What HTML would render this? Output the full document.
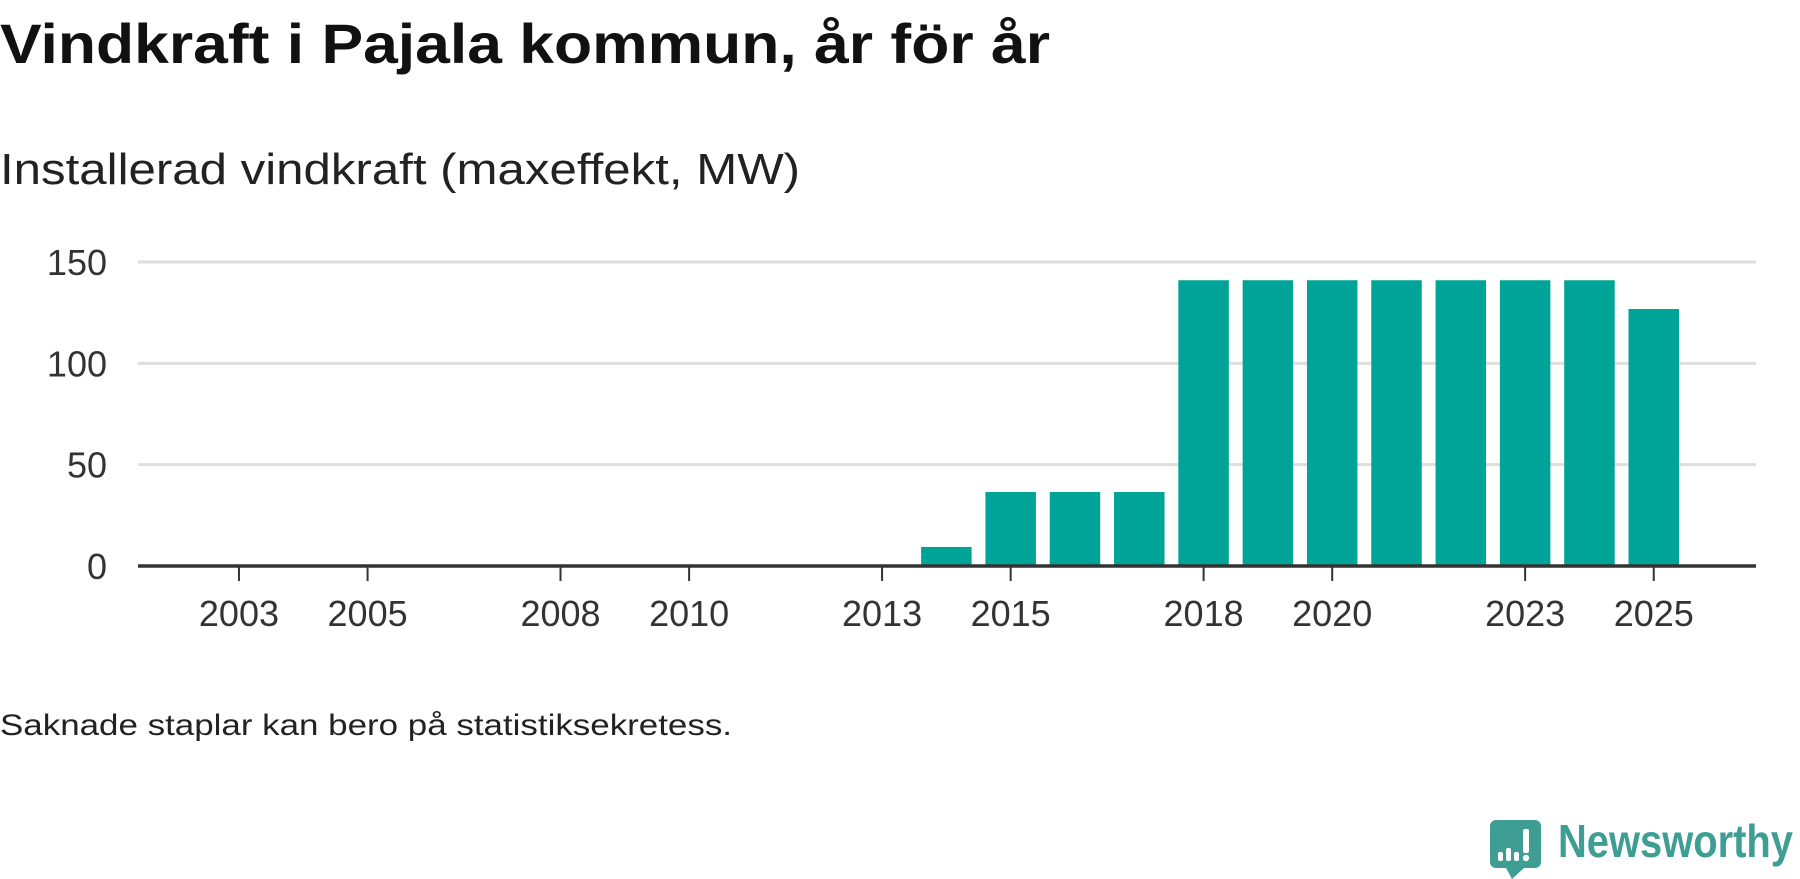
<!DOCTYPE html>
<html><head><meta charset="utf-8"><style>
html,body{margin:0;padding:0;background:#fff;width:1800px;height:879px;overflow:hidden}
svg{display:block;font-family:"Liberation Sans",sans-serif}
</style></head><body>
<svg id="chart" width="1800" height="879" viewBox="0 0 1800 879">
<text x="0" y="63" font-size="56" font-weight="bold" fill="#111" textLength="1050" lengthAdjust="spacingAndGlyphs">Vindkraft i Pajala kommun, år för år</text>
<text x="0" y="184" font-size="44" fill="#222" textLength="800" lengthAdjust="spacingAndGlyphs">Installerad vindkraft (maxeffekt, MW)</text>
<g id="grid"></g><g id="bars"></g><g id="axis"></g>
<text x="0" y="735" font-size="30" fill="#222" textLength="732" lengthAdjust="spacingAndGlyphs">Saknade staplar kan bero på statistiksekretess.</text>
<g>
<path d="M1496 820 H1535 a6 6 0 0 1 6 6 V862 a6 6 0 0 1 -6 6 H1524 L1512 879 L1506 868 H1496 a6 6 0 0 1 -6 -6 V826 a6 6 0 0 1 6 -6Z" fill="#3e9e94"/>
<rect x="1498" y="852" width="5" height="9" rx="2" fill="#fff"/>
<rect x="1506" y="848" width="5" height="13" rx="2" fill="#fff"/>
<rect x="1514" y="852" width="5" height="9" rx="2" fill="#fff"/>
<rect x="1523" y="829" width="6" height="24" rx="2" fill="#fff"/>
<circle cx="1526" cy="858" r="3.2" fill="#fff"/>
<text x="1558" y="857" font-size="46" font-weight="bold" fill="#3e9e94" textLength="235" lengthAdjust="spacingAndGlyphs">Newsworthy</text>
</g>
</svg>
<script>
const years=[2014,2015,2016,2017,2018,2019,2020,2021,2022,2023,2024,2025];
const values=[9.4,36.5,36.5,36.5,141,141,141,141,141,141,141,126.8];
const yTicks=[0,50,100,150];
const xTicks=[2003,2005,2008,2010,2013,2015,2018,2020,2023,2025];
const NS="http://www.w3.org/2000/svg";
const x0=138,x1=1756,d0=2001.43,d1=2026.59;
const X=v=>x0+(v-d0)/(d1-d0)*(x1-x0);
const y0=566,ypx=(566-262)/150;
const Y=v=>y0-v*ypx;
const bw=50.5;
function mk(tag,attrs,parent){const e=document.createElementNS(NS,tag);for(const k in attrs)e.setAttribute(k,attrs[k]);parent.appendChild(e);return e;}
const grid=document.getElementById('grid'),bars=document.getElementById('bars'),axis=document.getElementById('axis');
yTicks.forEach(t=>{
 if(t>0){const l=mk('line',{x1:x0,x2:x1,y1:Y(t),y2:Y(t),stroke:'#dedede','stroke-width':3},grid);
 
 }
 const tx=mk('text',{x:107,y:Y(t)+13,'text-anchor':'end','font-size':36,fill:'#333'},grid);
 tx.textContent=t;
 
 
});
years.forEach((yr,i)=>{
 const r=mk('rect',{x:X(yr)-bw/2,y:Y(values[i]),width:bw,height:Y(0)-Y(values[i]),fill:'#00a398'},bars);
 
 
});
const ax=mk('line',{x1:x0,x2:x1,y1:y0,y2:y0,stroke:'#333','stroke-width':3.5},axis);


xTicks.forEach(t=>{
 const l=mk('line',{x1:X(t),x2:X(t),y1:y0,y2:y0+15,stroke:'#333','stroke-width':2},axis);
 
 
 const tx=mk('text',{x:X(t),y:626,'text-anchor':'middle','font-size':36,fill:'#333'},axis);
 tx.textContent=t;
 
 
});
</script>
</body></html>
